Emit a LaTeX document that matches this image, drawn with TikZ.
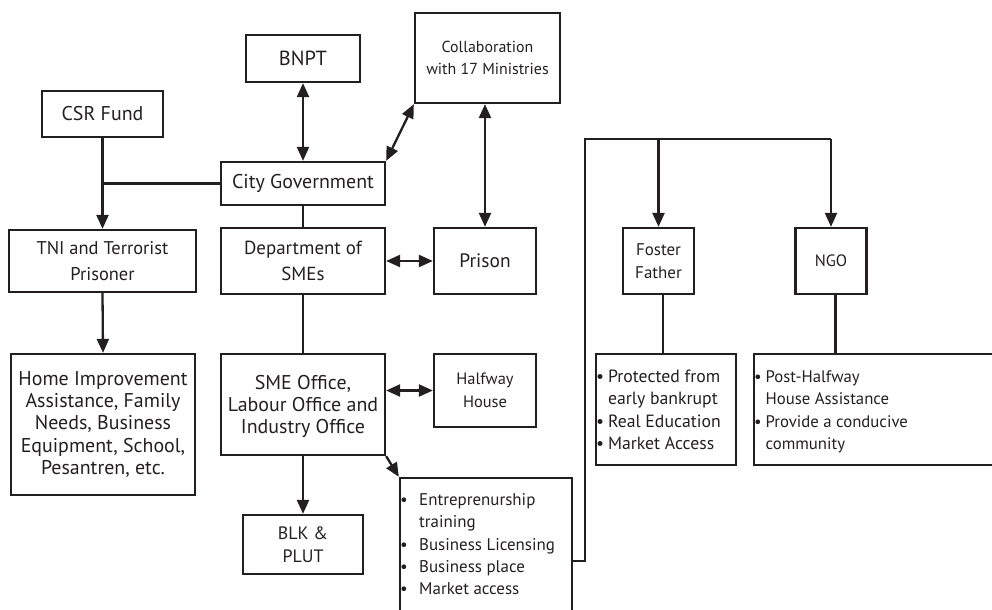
\documentclass[tikz,border=0pt]{standalone}
\usepackage{fontspec}
\setmainfont{PT Sans}
\usetikzlibrary{arrows.meta,calc}
\definecolor{ink}{HTML}{231F20}

\begin{document}
\begin{tikzpicture}[x=1bp,y=-1bp,
  box/.style={draw=ink, line width=2.3bp, text=ink, align=center, inner sep=0pt},
  fs/.style 2 args={font=\fontsize{#1}{#2}\selectfont},
  list/.style={anchor=north west, inner sep=0pt, text=ink, align=left},
  link/.style={draw=ink, line width=2.3bp},
  tip/.tip={Triangle[length=14bp,width=12bp]},
  arr/.style={link, -tip},
  darr/.style={link, tip-tip},
]
\useasboundingbox (0,0) rectangle (992,610);
\clip (0,0) rectangle (992,610);

% upper row
\node[box, fs={20.5}{26}, minimum width=114bp, minimum height=47bp] (bnpt) at (303,58.5) {BNPT};
\node[box, fs={16}{21.7}, minimum width=145bp, minimum height=90bp, text depth=0pt] (collab) at (487.5,58) {Collaboration\\with 17 Ministries};
\node[box, fs={20}{26}, minimum width=121bp, minimum height=46bp] (csr) at (102.5,114) {CSR Fund};
\node[box, fs={20}{26}, minimum width=164bp, minimum height=43bp] (city) at (303,183.5) {City Government};

% second row
\node[box, fs={18.5}{26.7}, minimum width=187bp, minimum height=62bp] (tni) at (102.5,261) {TNI and Terrorist\\Prisoner};
\node[box, fs={19}{26.7}, minimum width=164bp, minimum height=66bp] (dept) at (303,261) {Department of\\SMEs};
\node[box, fs={19.5}{26}, minimum width=102bp, minimum height=66bp] (prison) at (485,261) {Prison};
\node[box, fs={17}{22.7}, minimum width=71bp, minimum height=66bp] (foster) at (658.5,261) {Foster\\Father};
\node[box, fs={16.5}{22.7}, minimum width=71bp, minimum height=66bp] (ngo) at (831,261) {NGO};

% third row
\node[box, fs={20}{22.5}, minimum width=184bp, minimum height=141bp] (home) at (103,424.5) {Home Improvement\\Assistance, Family\\Needs, Business\\Equipment, School,\\Pesantren, etc.};
\node[box, fs={20}{22}, minimum width=164bp, minimum height=101bp, text depth=0pt] (sme) at (303,404.5) {SME Office,\\Labour Office and\\Industry Office};
\node[box, fs={16.5}{22.7}, minimum width=102bp, minimum height=73bp] (halfway) at (485,390.5) {Halfway\\House};
\node[box, minimum width=140bp, minimum height=111bp] (fdet) at (666,409.5) {};
\node[box, minimum width=256bp, minimum height=111bp] (ndet) at (882,409.5) {};

% bottom row
\node[box, fs={18}{23.3}, minimum width=120bp, minimum height=59bp] (blk) at (303,544.5) {BLK \&\\PLUT};
\node[box, minimum width=172bp, minimum height=166bp] (ent) at (486,561) {};

% bullet lists
\node[list, fs={17}{22.5}] (entlist) at ([xshift=1bp,yshift=-12.5bp]ent.north west)
  {\begin{tabular}{@{}l@{\hspace{11.5bp}}l@{}}
   \textbullet & Entreprenurship\\
               & training\\
   \textbullet & Business Licensing\\
   \textbullet & Business place\\
   \textbullet & Market access
   \end{tabular}};
\node[list, fs={17.8}{22.5}] (fdetlist) at ([xshift=1bp,yshift=-13.5bp]fdet.north west)
  {\begin{tabular}{@{}l@{\hspace{4bp}}l@{}}
   \textbullet & Protected from\\
               & early bankrupt\\
   \textbullet & Real Education\\
   \textbullet & Market Access
   \end{tabular}};
\node[list, fs={16.8}{22.5}] (ndetlist) at ([xshift=1bp,yshift=-13.5bp]ndet.north west)
  {\begin{tabular}{@{}l@{\hspace{4bp}}l@{}}
   \textbullet & Post-Halfway\\
               & House Assistance\\
   \textbullet & Provide a conducive\\
               & community
   \end{tabular}};

% connectors
\coordinate (csrj) at (csr.south |- city.west);
\draw[arr] (csr.south) -- (tni.north);
\draw[link] (city.west) -- (csrj);
\draw[darr] (bnpt.south) -- (city.north);
\draw[darr] (city.north east) -- (collab.south west);
\draw[link] (city.south) -- (dept.north);
\draw[darr] (collab.south -| prison.north) -- (prison.north);
\draw[darr] (dept.east) -- (prison.west);
\draw[arr] (tni.south) -- (home.north);
\draw[link] (dept.south) -- (sme.north);
\draw[darr] (sme.east |- halfway.west) -- (halfway.west);
\draw[arr] (sme.south) -- (blk.north);
\draw[arr] (sme.south east) -- (ent.north west);

\coordinate (busL) at (585,139);
\coordinate (busR) at (ngo.north |- busL);
\draw[link] (ent.east) -| (busL) -- (busR);
\draw[arr] (foster.north |- busL) -- (foster.north);
\draw[arr] (busR) -- (ngo.north);
\draw[link] ([xshift=4.5bp]foster.south) -- ([xshift=4.5bp]foster.south |- fdet.north);
\draw[link] ([xshift=4.5bp]ngo.south) -- ([xshift=4.5bp]ngo.south |- ndet.north);
\end{tikzpicture}
\end{document}
